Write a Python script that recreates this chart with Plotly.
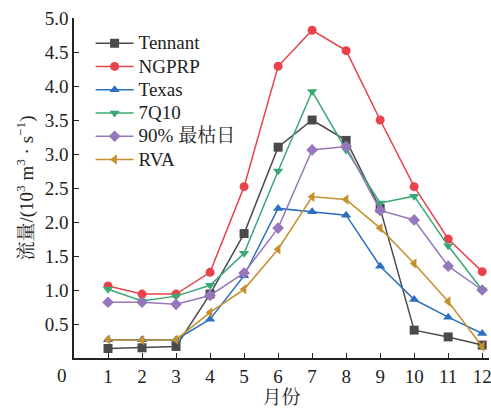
import plotly.graph_objects as go

months = list(range(1, 13))
tennant = [0.14, 0.15, 0.17, 0.94, 1.83, 3.10, 3.50, 3.20, 2.20, 0.41, 0.31, 0.19]
ngprp = [1.06, 0.94, 0.94, 1.26, 2.52, 4.29, 4.82, 4.52, 3.50, 2.52, 1.75, 1.27]
texas = [0.27, 0.27, 0.27, 0.57, 1.21, 2.20, 2.15, 2.10, 1.35, 0.86, 0.60, 0.36]
q710 = [1.01, 0.84, 0.91, 1.07, 1.54, 2.75, 3.92, 3.06, 2.28, 2.38, 1.65, 1.00]
p90 = [0.82, 0.82, 0.79, 0.92, 1.25, 1.91, 3.06, 3.11, 2.17, 2.03, 1.35, 1.00]
rva = [0.27, 0.26, 0.27, 0.67, 1.01, 1.60, 2.37, 2.33, 1.91, 1.39, 0.83, 0.17]

series = [
    ("Tennant", tennant, "#4a4a4a", "square"),
    ("NGPRP", ngprp, "#e8434b", "circle"),
    ("Texas", texas, "#2b6fbf", "triangle-up"),
    ("7Q10", q710, "#3aa874", "triangle-down"),
    ("90% 最枯日", p90, "#9677bb", "diamond"),
    ("RVA", rva, "#c4912f", "triangle-left"),
]

yticks = [0.5, 1.0, 1.5, 2.0, 2.5, 3.0, 3.5, 4.0, 4.5, 5.0]
ytext = ["0.5", "1.0", "1.5", "2.0", "2.5", "3.0", "3.5", "4.0", "4.5", "5.0"]

FONT = "Times New Roman, Liberation Serif, Noto Serif CJK SC, Noto Sans CJK SC, serif"

fig = go.Figure()
for name, vals, color, sym in series:
    fig.add_trace(go.Scatter(
        x=months, y=vals, name='<span style="font-size:19px">' + name + '</span>',
        mode="lines+markers",
        line=dict(color=color, width=1.5),
        marker=dict(symbol=sym, size=9, color=color),
    ))

fig.update_layout(
    width=491, height=412,
    margin=dict(l=74, r=2, t=18, b=54),
    plot_bgcolor="white", paper_bgcolor="white",
    font=dict(family=FONT, size=19, color="#222"),
    showlegend=True,
    legend=dict(x=0.04, y=0.975, xanchor="left", yanchor="top",
                bgcolor="rgba(0,0,0,0)", font=dict(size=15.6, family=FONT),
                tracegroupgap=0, itemwidth=38),
    xaxis=dict(range=[0, 12.2], tickvals=months, ticktext=[str(m) for m in months],
               showline=True, linecolor="#222", linewidth=1.5, ticks="inside",
               ticklen=5, tickcolor="#222", showgrid=False, zeroline=False,
               automargin=False, ticklabeloverflow="allow",
               title=dict(text="月份", font=dict(size=19, family=FONT), standoff=2)),
    yaxis=dict(range=[0, 5.0], tickvals=yticks, ticktext=ytext,
               showline=True, linecolor="#222", linewidth=1.5, ticks="inside",
               ticklen=5, tickcolor="#222", showgrid=False, zeroline=False,
               automargin=False, ticklabeloverflow="allow",
               title=dict(text="流量/(10<sup>3</sup> m<sup>3</sup> · s<sup>−1</sup>)",
                          font=dict(size=19, family=FONT), standoff=6)),
    annotations=[dict(text="0", xref="paper", yref="paper", x=-0.03, y=-0.05,
                      xanchor="center", yanchor="middle", showarrow=False,
                      font=dict(size=19, family=FONT))],
)

fig.write_html("out.html", config={"displayModeBar": False},
               post_script="document.body.style.margin='0';document.body.style.padding='0';")
